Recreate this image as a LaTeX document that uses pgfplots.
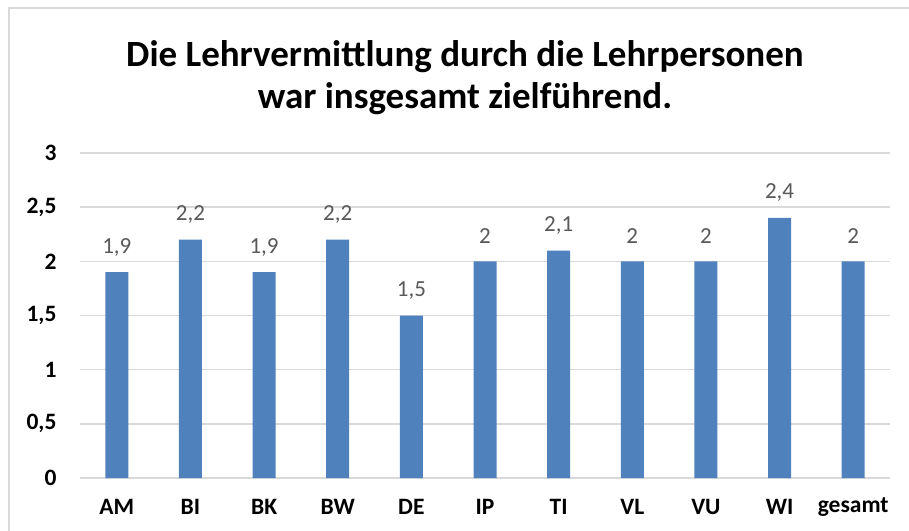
\documentclass[border=0pt]{standalone}
\usepackage{pgfplots}
\pgfplotsset{compat=1.18}
\usepackage{fontspec}
\setmainfont{Carlito}
\definecolor{barblue}{HTML}{4F81BD}
\definecolor{gridgray}{HTML}{D9D9D9}
\definecolor{labgray}{HTML}{595959}
\definecolor{framegray}{HTML}{D9D9D9}
\begin{document}
\begin{tikzpicture}[x=1pt,y=1pt]
\useasboundingbox (-80,-52) rectangle (829,478);
\fill[white] (-80,-52) rectangle (829,478);
\draw[framegray, line width=1.5pt] (-71,-60) -- (-71,470) -- (840,470);
\begin{axis}[
  at={(0,0)}, anchor=south west,
  scale only axis, width=810pt, height=325pt,
  ybar, bar width=23pt,
  xmin=-0.5, xmax=10.5, ymin=0, ymax=3,
  xtick=data,
  xticklabels={AM,BI,BK,BW,DE,IP,TI,VL,VU,WI,gesamt},
  ytick={0,0.5,1,1.5,2,2.5,3},
  /pgf/number format/use comma,
  /pgf/number format/assume math mode=true,
  axis line style={draw=none},
  major tick length=0pt,
  ymajorgrids, grid style={gridgray, line width=1.5pt},
  ticklabel style={font=\fontsize{23.5}{26}\selectfont\bfseries, text=black},
  yticklabel style={anchor=east, xshift=-20pt},
  xticklabel style={anchor=center, yshift=-29pt},
  nodes near coords,
  nodes near coords style={font=\fontsize{23}{26}\selectfont, text=labgray, anchor=center, yshift=25pt, /pgf/number format/use comma, /pgf/number format/assume math mode=true},
]
\addplot[fill=barblue, draw=none] coordinates {
(0,1.9) (1,2.2) (2,1.9) (3,2.2) (4,1.5) (5,2) (6,2.1) (7,2) (8,2) (9,2.4) (10,2)
};
\end{axis}
\node[font=\fontsize{37}{42}\selectfont\bfseries, align=center, anchor=center] at (385,400) {Die Lehrvermittlung durch die Lehrpersonen\\war insgesamt zielführend.};
\end{tikzpicture}
\end{document}
